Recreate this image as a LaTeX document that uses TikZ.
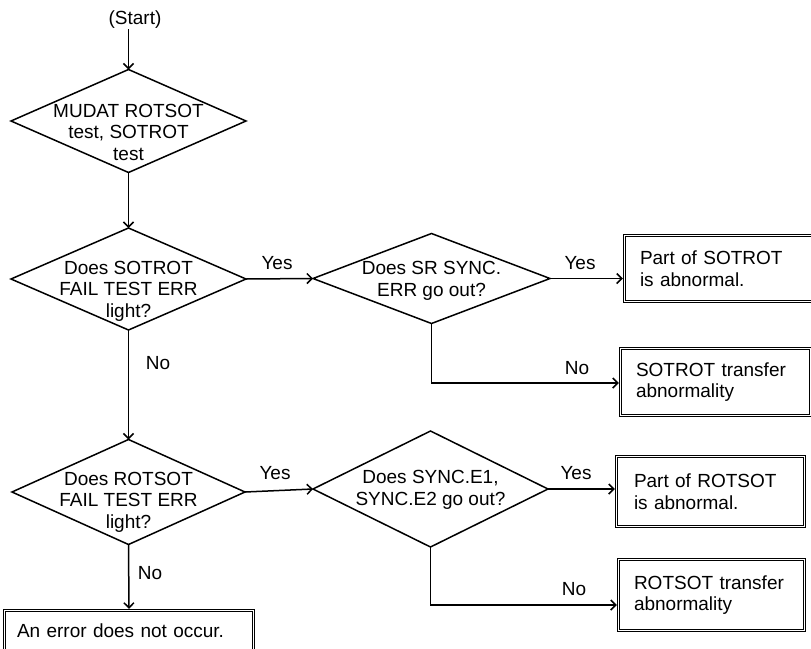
\documentclass[tikz,border=0pt]{standalone}
\usepackage{fontspec}
\setmainfont{Liberation Sans}
\usetikzlibrary{arrows.meta,shapes.geometric,calc}
\begin{document}
\begin{tikzpicture}[x=1pt,y=-1pt,
  txt/.style={font=\fontsize{19}{21.5}\selectfont, inner sep=0pt, align=center},
  dia/.style={draw, diamond, line width=1.5pt, inner sep=0pt, outer sep=0pt},
  box/.style={draw, rectangle, double, double distance=1.8pt, line width=0.9pt,
    font=\fontsize{19}{21.5}\selectfont, align=left, inner ysep=0pt, outer sep=1.7pt},
  conn/.style={line width=1.5pt, -{Straight Barb[length=5pt,width=10pt]}}]
\useasboundingbox[fill=white] (0,0) rectangle (811,648);

% start
\node[txt] (start) at (135,20) {(Start)};

% diamonds
\node[dia, minimum width=235pt, minimum height=103pt] (d1) at (128.5,121) {};
\node[txt] (t1) at (128.5,132) {MUDAT ROTSOT\\test, SOTROT\\test};
\node[dia, minimum width=235pt, minimum height=102pt] (d2) at (128.5,279) {};
\node[txt] (t2) at (128.5,291) {Does SOTROT\\FAIL TEST ERR\\light?};
\node[dia, minimum width=237pt, minimum height=90pt] (d3) at (431.5,278.5) {};
\node[txt] (t3) at (431.5,281) {Does SR SYNC.\\ERR go out?};
\node[dia, minimum width=233pt, minimum height=105pt] (d4) at (128.5,492) {};
\node[txt] (t4) at (128.5,502) {Does ROTSOT\\FAIL TEST ERR\\light?};
\node[dia, minimum width=235pt, minimum height=116pt] (d5) at (430.5,489) {};
\node[txt] (t5) at (430.5,490) {Does SYNC.E1,\\SYNC.E2 go out?};

% boxes
\node[box, minimum width=189pt, minimum height=66pt, inner xsep=15.5pt, text width=158pt] (b1) at (719,268.5) {Part of SOTROT\\is abnormal.};
\node[box, minimum width=190pt, minimum height=67pt, inner xsep=15.5pt, text width=159pt] (b2) at (715.5,382) {SOTROT transfer\\abnormality};
\node[box, minimum width=188pt, minimum height=70pt, inner xsep=17.5pt, text width=153pt] (b3) at (710.5,491.5) {Part of ROTSOT\\is abnormal.};
\node[box, minimum width=186pt, minimum height=71pt, inner xsep=15.5pt, text width=155pt] (b4) at (711.5,595) {ROTSOT transfer\\abnormality};
\node[box, minimum width=249pt, minimum height=40pt, inner xsep=12.5pt, text width=224pt] (b5) at (129,630.5) {An error does not occur.};

% connectors
\draw[conn] (start.south -| d1.north) -- (d1.north);
\draw[conn] (d1.south) -- (d2.north);
\draw[conn] (d2.east) -- (d3.west);
\draw[conn] (d3.east) -- (d3.east -| b1.west);
\draw[conn] (d3.south) |- ($(b2.west)+(0,1)$);
\draw[conn] (d2.south) -- (d4.north);
\draw[conn] (d4.east) -- (d5.west);
\draw[conn] (d5.east) -- (d5.east -| b3.west);
\draw[conn] (d5.south) |- ($(b4.west)+(0,10)$);
\draw[conn] (d4.south) -- (b5.north);

% labels
\node[txt] (y1) at (277,263) {Yes};
\node[txt] (y2) at (580,263) {Yes};
\node[txt] (n1) at (158,363) {No};
\node[txt] (n2) at (577,368) {No};
\node[txt] (y3) at (275,473) {Yes};
\node[txt] (y4) at (576,473) {Yes};
\node[txt] (n3) at (150,573) {No};
\node[txt] (n4) at (574,589) {No};
\end{tikzpicture}
\end{document}
